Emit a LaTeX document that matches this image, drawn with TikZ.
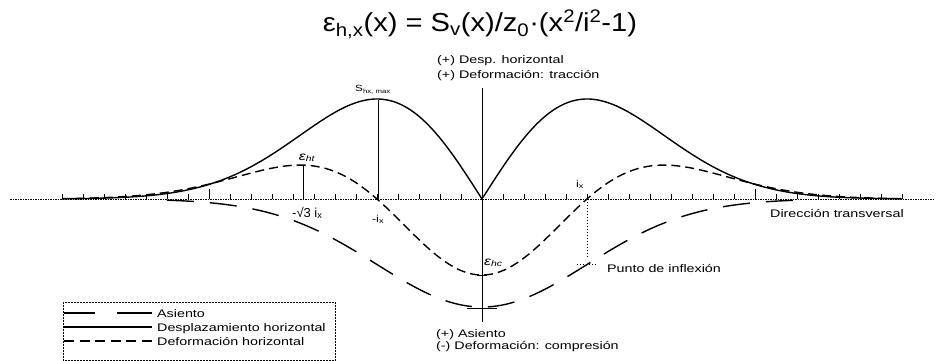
\documentclass[tikz,border=0pt]{standalone}
\usepackage{fontspec}
\setmainfont{Liberation Sans}
\newfontfamily\lab[FakeStretch=1.3]{Liberation Sans}
\newfontfamily\ttl[FakeStretch=1.12]{Liberation Sans}
\begin{document}
\begin{tikzpicture}[x=1pt,y=-1pt,
  lbl/.style={font=\lab\fontsize{11}{12}\selectfont, inner sep=0pt},
  curve/.style={line width=1.4pt, line join=round},
  disp/.style={curve},
  strain/.style={curve, dash pattern=on 9pt off 5pt},
  settle/.style={curve, dash pattern=on 27pt off 16pt},
  thinl/.style={line width=0.6pt},
  dotl/.style={line width=0.7pt, dash pattern=on 1pt off 2pt},
  axisl/.style={line width=0.5pt, dash pattern=on 1.5pt off 1pt},
  tickl/.style={line width=0.6pt}
]
\useasboundingbox (0,0) rectangle (938,361);
% title
\node[inner sep=0pt, anchor=base] (title) at (480,32)
  {\ttl\fontsize{26}{30}\selectfont ε\textsubscript{h,x}(x) = S\textsubscript{v}(x)/z\textsubscript{0}·(x\textsuperscript{2}/i\textsuperscript{2}-1)};
% axis
\coordinate (axL) at (10,199);
\coordinate (axR) at (935,199);
\draw[axisl] (axL) -- (axR);
\foreach \k in {-20,-19,...,-1,1,2,...,20}
  \draw[tickl] ({482+21*\k},199) -- ++(0,-5);
\draw[tickl] (209,199) -- (209,189);
\draw[tickl] (755,199) -- (755,189);
% centre vertical line
\coordinate (ctop) at (482,88);
\coordinate (cbot) at (482,322);
\draw[thinl] (ctop) -- (cbot);
\draw[thinl] (477,275) -- (487,275);
\draw[line width=1pt] (467,308) -- (497,308);
% curves
\draw[disp] plot[variable=\t, domain=-4:4, samples=401]
  ({482+105*\t}, {199-100*abs(\t)*exp(0.5-0.5*\t*\t)});
\draw[strain] plot[variable=\t, domain=-4:4, samples=301]
  ({482+105*\t}, {199+76*(1-\t*\t)*exp(-0.5*\t*\t)});
\draw[settle] plot[variable=\t, domain=-3:3, samples=241]
  ({482+105*\t}, {199+108*exp(-0.5*\t*\t)});
% helper verticals
\coordinate (mi0) at (378,199);
\coordinate (mi1) at (378,100);
\draw[thinl] (mi0) -- (mi1);
\coordinate (ms0) at (303,199);
\coordinate (ms1) at (303,166);
\draw[thinl] (ms0) -- (ms1);
\coordinate (ip0) at (587,199);
\coordinate (ip1) at (587,258);
\draw[dotl] (ip0) -- (ip1);
\coordinate (ipl) at (577,264);
\coordinate (ipr) at (597,264);
\draw[dotl] (ipl) -- (ipr);
% labels
\node[lbl, anchor=base west] (t1) at (437,64) {(+) Desp. horizontal};
\node[lbl, anchor=base west] (t2) at (437,78) {(+) Deformación: tracción};
\node[lbl, anchor=base west] (b1) at (436,337) {(+) Asiento};
\node[lbl, anchor=base west] (b2) at (436,349) {(-) Deformación: compresión};
\node[inner sep=0pt, anchor=base] (shmax) at (373,92) {\lab\fontsize{9}{9}\selectfont S\textsubscript{hx, max}};
\node[inner sep=0pt, anchor=base] (eht) at (307,160) {\lab\fontsize{12}{12}\selectfont\itshape ε\textsubscript{ht}};
\node[inner sep=0pt, anchor=base west] (ehc) at (484,265) {\lab\fontsize{12}{12}\selectfont\itshape ε\textsubscript{hc}};
\node[inner sep=0pt, anchor=base west] (s3i) at (292,217) {\fontsize{13}{13}\selectfont -√3 i\textsubscript{x}};
\node[inner sep=0pt, anchor=base] (mil) at (378,222) {\lab\fontsize{10}{10}\selectfont -i\textsubscript{x}};
\node[inner sep=0pt, anchor=base] (pil) at (580,187) {\lab\fontsize{10}{10}\selectfont i\textsubscript{x}};
\node[lbl, anchor=base west] (pinf) at (607,272) {Punto de inflexión};
\node[lbl, anchor=base west] (dtr) at (770,217) {Dirección transversal};
% legend
\node[draw, line width=0.5pt, densely dotted, minimum width=272pt, minimum height=58pt, inner sep=0pt, anchor=north west] (leg) at (63,302) {};
\coordinate (l1a) at (64,313); \coordinate (l1b) at (152,313);
\coordinate (l2a) at (64,327); \coordinate (l2b) at (152,327);
\coordinate (l3a) at (64,341); \coordinate (l3b) at (152,341);
\draw[line width=1.1pt, dash pattern=on 31pt off 22pt on 40pt off 1pt] (l1a) -- (l1b);
\draw[line width=1.1pt] (l2a) -- (l2b);
\draw[line width=1.1pt, dash pattern=on 10pt off 5.6pt] (l3a) -- (l3b);
\node[lbl, anchor=base west] (lg1) at (157,317) {Asiento};
\node[lbl, anchor=base west] (lg2) at (157,331) {Desplazamiento horizontal};
\node[lbl, anchor=base west] (lg3) at (157,345) {Deformación horizontal};
\end{tikzpicture}
\end{document}
